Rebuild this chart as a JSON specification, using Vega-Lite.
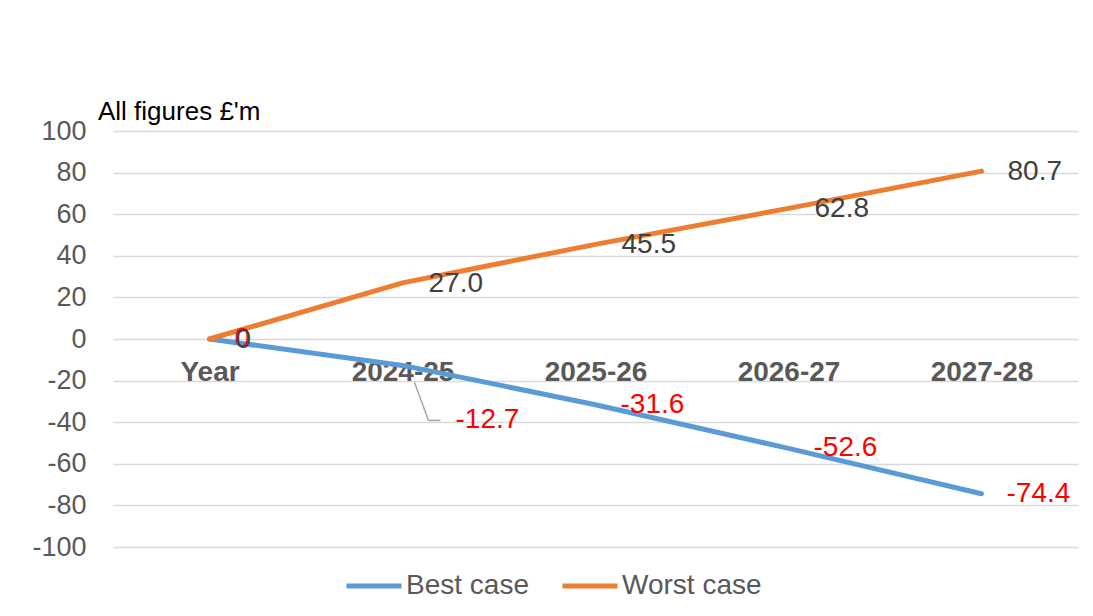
{
  "$schema": "https://vega.github.io/schema/vega-lite/v6.json",
  "autosize": "none",
  "width": 965,
  "height": 416,
  "padding": {"left": 113, "top": 131, "right": 15, "bottom": 69},
  "background": "white",
  "config": {
    "font": "Liberation Sans",
    "view": {"stroke": null}
  },
  "title": {
    "text": "All figures £'m",
    "anchor": "start",
    "frame": "group",
    "dx": -15,
    "offset": -8,
    "fontSize": 26,
    "fontWeight": "normal",
    "color": "#000000",
    "font": "Liberation Sans"
  },
  "data": {
    "values": [
      {"year": "Year", "series": "Best case", "value": 0, "label": "0"},
      {"year": "2024-25", "series": "Best case", "value": -12.7, "label": "-12.7"},
      {"year": "2025-26", "series": "Best case", "value": -31.6, "label": "-31.6"},
      {"year": "2026-27", "series": "Best case", "value": -52.6, "label": "-52.6"},
      {"year": "2027-28", "series": "Best case", "value": -74.4, "label": "-74.4"},
      {"year": "Year", "series": "Worst case", "value": 0, "label": "0"},
      {"year": "2024-25", "series": "Worst case", "value": 27.0, "label": "27.0"},
      {"year": "2025-26", "series": "Worst case", "value": 45.5, "label": "45.5"},
      {"year": "2026-27", "series": "Worst case", "value": 62.8, "label": "62.8"},
      {"year": "2027-28", "series": "Worst case", "value": 80.7, "label": "80.7"}
    ]
  },
  "encoding": {
    "x": {
      "field": "year",
      "type": "ordinal",
      "sort": ["Year", "2024-25", "2025-26", "2026-27", "2027-28"],
      "scale": {"type": "point", "padding": 0.5},
      "axis": {
        "title": null,
        "orient": "bottom",
        "offset": -208,
        "domain": false,
        "ticks": false,
        "labelAngle": 0,
        "labelPadding": 19,
        "labelFontSize": 28,
        "labelFontWeight": "bold",
        "labelColor": "#595959",
        "zindex": 0
      }
    },
    "y": {
      "field": "value",
      "type": "quantitative",
      "scale": {"domain": [-100, 100], "nice": false, "zero": false},
      "axis": {
        "title": null,
        "values": [-100, -80, -60, -40, -20, 0, 20, 40, 60, 80, 100],
        "labelExpr": "'' + datum.value",
        "domain": false,
        "ticks": false,
        "grid": true,
        "gridColor": "#D9D9D9",
        "gridWidth": 1.5,
        "labelPadding": 27,
        "labelFontSize": 27,
        "labelColor": "#595959"
      }
    }
  },
  "layer": [
    {
      "mark": {"type": "line", "strokeWidth": 5, "strokeCap": "round", "strokeJoin": "round"},
      "encoding": {
        "color": {
          "field": "series",
          "type": "nominal",
          "scale": {"domain": ["Best case", "Worst case"], "range": ["#5B9BD5", "#ED7D31"]},
          "legend": {
            "title": null,
            "orient": "none",
            "direction": "horizontal",
            "legendX": 231,
            "legendY": 425,
            "symbolType": "stroke",
            "symbolSize": 3025,
            "symbolStrokeWidth": 5,
            "labelFontSize": 28,
            "labelColor": "#595959",
            "labelOffset": 2,
            "columnPadding": 23
          }
        }
      }
    },
    {
      "transform": [{"filter": "datum.label == '-12.7'"}],
      "mark": {"type": "rule", "color": "#A6A6A6", "strokeWidth": 1.5, "xOffset": 12, "yOffset": 17, "x2Offset": 26, "y2Offset": 55},
      "encoding": {"x2": {"field": "year"}, "y2": {"field": "value"}}
    },
    {
      "transform": [{"filter": "datum.label == '-12.7'"}],
      "mark": {"type": "rule", "color": "#A6A6A6", "strokeWidth": 1.5, "xOffset": 26, "yOffset": 55, "x2Offset": 38, "y2Offset": 55},
      "encoding": {"x2": {"field": "year"}, "y2": {"field": "value"}}
    },
    {
      "transform": [{"filter": "datum.series == 'Best case' && datum.label != '-12.7'"}],
      "mark": {"type": "text", "align": "left", "baseline": "middle", "dx": 25, "dy": 0, "fontSize": 28, "color": "#FF0000"},
      "encoding": {"text": {"field": "label"}}
    },
    {
      "transform": [{"filter": "datum.label == '-12.7'"}],
      "mark": {"type": "text", "align": "left", "baseline": "middle", "dx": 53, "dy": 55, "fontSize": 28, "color": "#FF0000"},
      "encoding": {"text": {"field": "label"}}
    },
    {
      "transform": [{"filter": "datum.series == 'Worst case'"}],
      "mark": {"type": "text", "align": "left", "baseline": "middle", "dx": 26, "dy": 1, "fontSize": 28, "color": "#404040"},
      "encoding": {"text": {"field": "label"}}
    }
  ]
}
